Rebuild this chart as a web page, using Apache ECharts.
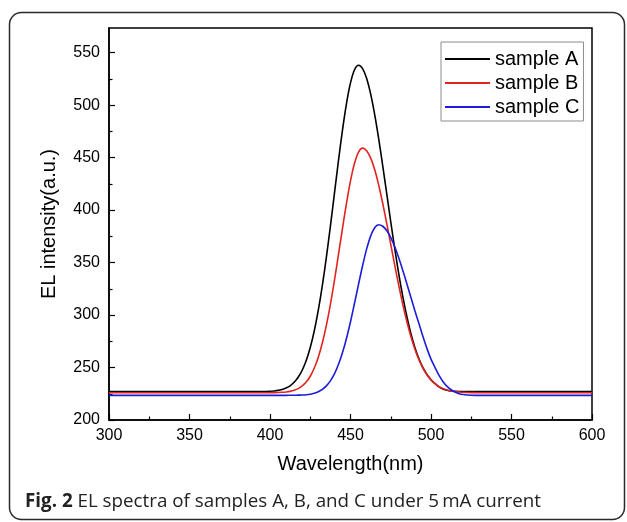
<!DOCTYPE html>
<html>
<head>
<meta charset="utf-8">
<script src="https://cdn.jsdelivr.net/npm/echarts@6/dist/echarts.min.js"></script>
<style>
html,body{margin:0;padding:0;background:#fff;}
#chart{width:627px;height:522px;}
</style>
</head>
<body>
<div id="chart"></div>
<script>
// ---- data ----
var seriesNames = ['sample A', 'sample B', 'sample C'];

var wave = [300, 350, 380, 390, 395,
  400, 402.5, 405, 407.5, 410, 412.5, 415, 417.5, 420, 422.5, 425, 427.5, 430, 432.5, 435, 437.5,
  440, 442.5, 445, 447.5, 450, 452.5, 455, 457.5, 460, 462.5, 465, 467.5, 470, 472.5, 475, 477.5,
  480, 482.5, 485, 487.5, 490, 492.5, 495, 497.5, 500, 502.5, 505, 507.5, 510, 512.5, 515, 517.5,
  520, 522.5, 525, 527.5, 530,
  540, 550, 600];

var valA = [227, 227, 227, 227.03, 227.1,
  227.4, 227.7, 228.2, 229.1, 230.5, 232.6, 235.9, 240.7, 247.4, 256.7, 269.1, 284.9, 304.6, 328.0, 354.9, 384.5,
  415.6, 446.8, 476.0, 501.5, 521.2, 533.7, 538, 534.8, 525.6, 510.7, 491.2, 468.0, 442.4, 415.6, 388.9, 363.1,
  339.1, 317.5, 298.6, 282.4, 269.1, 258.3, 249.8, 243.3, 238.4, 234.6, 231.5, 229.5, 228.3, 227.6, 227.3, 227.15,
  227.1, 227.05, 227, 227, 227,
  227, 227, 227];

var valB = [226, 226, 226, 226, 226,
  226.05, 226.1, 226.2, 226.4, 226.7, 227.3, 228.3, 229.9, 232.5, 236.2, 241.7, 249.5, 259.9, 273.3, 290.1, 310.0,
  332.7, 357.3, 382.4, 406.5, 427.8, 444.6, 455.3, 459, 456.6, 449.7, 438.6, 423.9, 406.5, 387.4, 367.3, 347.3,
  328.0, 310.0, 293.8, 279.6, 267.5, 257.5, 249.5, 243.1, 238.2, 234.6, 231.8, 229.9, 228.6, 227.7, 227.1, 226.7,
  226.4, 226.2, 226.1, 226.05, 226,
  226, 226, 226];

var valC = [223.5, 223.5, 223.5, 223.5, 223.5,
  223.5, 223.5, 223.5, 223.5, 223.5, 223.55, 223.6, 223.7, 223.8, 224.1, 224.6, 225.5, 226.9, 229.1, 232.5, 237.3,
  243.9, 252.8, 264.0, 277.7, 293.6, 311.2, 329.4, 347.0, 362.8, 375.2, 383.2, 386, 384.6, 380.5, 373.8, 365.0,
  354.4, 342.5, 329.8, 316.9, 304.1, 291.9, 279.5, 268, 258, 250, 242.5, 236.5, 232, 228.8, 226.6, 225.1,
  224.3, 223.8, 223.6, 223.5, 223.5,
  223.5, 223.5, 223.5];

var xTicks = [300, 350, 400, 450, 500, 550, 600];
var yTicks = [200, 250, 300, 350, 400, 450, 500, 550];
var yMinorTicks = [225, 275, 325, 375, 425, 475, 525];
var xLabel = 'Wavelength(nm)';
var yLabel = 'EL intensity(a.u.)';
var captionBold = 'Fig. 2';
var captionText = ' EL spectra of samples A, B, and C under 5\u2009mA current';
var colors = ['#000000', '#e3231f', '#1c1cd9'];

function pairs(xs, ys) { return xs.map(function (x, i) { return [x, ys[i]]; }); }

var font = 'Liberation Sans, Arial, sans-serif';
var chart = echarts.init(document.getElementById('chart'), null, {renderer: 'canvas'});

var option = {
  backgroundColor: '#ffffff',
  animation: false,
  color: colors,
  grid: {left: 109, right: 35, top: 28, bottom: 102, show: true, borderColor: '#000', borderWidth: 1.5, backgroundColor: 'transparent'},
  legend: {
    orient: 'vertical', left: 441, top: 42,
    data: seriesNames,
    itemWidth: 45, itemHeight: 14, itemGap: 4,
    padding: [7, 4, 4, 3],
    borderColor: '#8c8c8c', borderWidth: 1,
    itemStyle: {opacity: 0},
    textStyle: {fontFamily: font, fontSize: 20, color: '#000'}
  },
  xAxis: {
    type: 'value', min: xTicks[0], max: xTicks[xTicks.length - 1], interval: 50,
    axisLine: {show: true, lineStyle: {color: '#000', width: 1.5}},
    axisTick: {show: true, inside: true, length: 6, lineStyle: {color: '#000', width: 1.2}},
    minorTick: {show: true, splitNumber: 2, length: 3.5, lineStyle: {color: '#000', width: 1.2}},
    splitLine: {show: false},
    axisLabel: {fontFamily: font, fontSize: 16, color: '#000', margin: 8},
    name: xLabel, nameLocation: 'middle', nameGap: 34,
    nameTextStyle: {fontFamily: font, fontSize: 20, color: '#000'}
  },
  yAxis: [{
    type: 'value', min: 200, max: 573.5,
    axisLine: {show: true, lineStyle: {color: '#000', width: 1.5}},
    axisTick: {show: true, inside: true, length: 6, customValues: yTicks, lineStyle: {color: '#000', width: 1.2}},
    splitLine: {show: false},
    axisLabel: {fontFamily: font, fontSize: 16, color: '#000', margin: 9, customValues: yTicks},
    name: yLabel, nameLocation: 'middle', nameGap: 50,
    nameTextStyle: {fontFamily: font, fontSize: 20, color: '#000'}
  }, {
    type: 'value', min: 200, max: 573.5, position: 'left',
    axisLine: {show: false},
    axisTick: {show: true, inside: true, length: 3.5, customValues: yMinorTicks, lineStyle: {color: '#000', width: 1.2}},
    axisLabel: {show: false, customValues: yMinorTicks},
    splitLine: {show: false}
  }],
  series: [
    {name: seriesNames[0], type: 'line', data: pairs(wave, valA), symbol: 'none', smooth: 0.3, lineStyle: {width: 1.6}, z: 3},
    {name: seriesNames[1], type: 'line', data: pairs(wave, valB), symbol: 'none', smooth: 0.3, lineStyle: {width: 1.6}, z: 4},
    {name: seriesNames[2], type: 'line', data: pairs(wave, valC), symbol: 'none', smooth: 0.3, lineStyle: {width: 1.6}, z: 5}
  ],
  graphic: [
    {type: 'rect', shape: {x: 9.5, y: 12.5, width: 615, height: 507, r: 12}, style: {fill: 'none', stroke: '#2a2a2a', lineWidth: 1.5}, silent: true},
    {type: 'text', left: 25, top: 492,
     style: {
       text: '{b|' + captionBold + '}{n|' + captionText + '}',
       rich: {
         b: {fontFamily: 'Open Sans', fontWeight: 'bold', fontSize: 18.8, fill: '#222'},
         n: {fontFamily: 'Open Sans', fontSize: 18.8, fill: '#222'}
       }
     }}
  ]
};
chart.setOption(option);
</script>
</body>
</html>
